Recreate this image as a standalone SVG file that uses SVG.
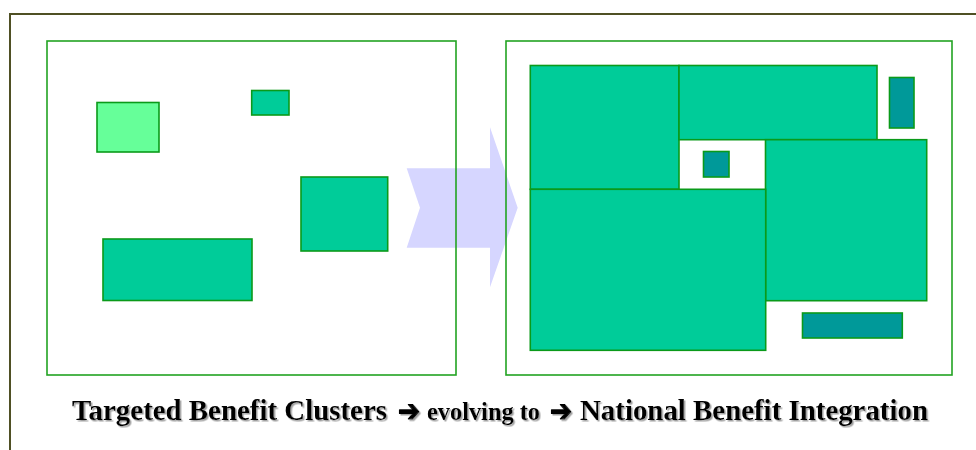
<svg xmlns="http://www.w3.org/2000/svg" width="976" height="450" viewBox="0 0 976 450">
<defs>
<style>
.frame{fill:none;stroke:#4f5024;stroke-width:2}
.box{fill:none;stroke:#22a322;stroke-width:1.6}
.g{fill:#00cc99;stroke:#0a9a1a;stroke-width:1.6}
.lg{fill:#66ff99;stroke:#0a9a1a;stroke-width:1.6}
.t{fill:#009999;stroke:#0a9a1a;stroke-width:1.6}
.cap{font-family:"Liberation Serif","Times New Roman",serif;font-weight:bold;fill:#000}
.arr{font-family:"DejaVu Sans",sans-serif;font-weight:bold;fill:#000;stroke:#000;stroke-width:1.3;stroke-linejoin:round}
</style>
<filter id="sh" x="-5%" y="-30%" width="110%" height="160%">
<feDropShadow dx="1.5" dy="1.5" stdDeviation="0.3" flood-color="#a0a0a0" flood-opacity="1"/>
</filter>
</defs>
<rect id="background" x="0" y="0" width="976" height="450" fill="#ffffff"/>
<rect id="frame" class="frame" x="10" y="14" width="980" height="450"/>
<g id="evolution-arrow">
<polygon points="406.7,168.3 490,168.3 490,127.3 517.7,207.7 490,287.3 490,247.7 406.7,247.7 420,207.7" fill="#d6d6ff"/>
</g>
<g id="left-panel">
<rect class="box" x="47" y="41" width="409" height="334"/>
<rect id="cluster-1" class="lg" x="97" y="102.5" width="62" height="49.5"/>
<rect id="cluster-2" class="g" x="251.7" y="90.5" width="37.3" height="24.5"/>
<rect id="cluster-3" class="g" x="301" y="177" width="86.7" height="74"/>
<rect id="cluster-4" class="g" x="103" y="239" width="149" height="61.5"/>
</g>
<g id="right-panel">
<rect class="box" x="506" y="41" width="446" height="334"/>
<rect id="block-1" class="g" x="530.3" y="65.5" width="148.7" height="123.8"/>
<rect id="block-2" class="g" x="679" y="65.5" width="198" height="74.2"/>
<rect id="block-3" class="t" x="889.5" y="77.5" width="24.5" height="50.5"/>
<rect id="block-4" class="g" x="765.5" y="139.7" width="161.2" height="161"/>
<rect id="block-5" class="t" x="703.5" y="151.5" width="25.5" height="25.5"/>
<rect id="block-6" class="g" x="530.3" y="189.3" width="235.4" height="161"/>
<rect id="block-7" class="t" x="802.5" y="313" width="99.8" height="25"/>
</g>
<g id="caption" filter="url(#sh)">
<text class="cap" x="72" y="420" font-size="29" textLength="315" lengthAdjust="spacingAndGlyphs">Targeted Benefit Clusters</text>
<text class="arr" x="398" y="421" font-size="30" textLength="22" lengthAdjust="spacingAndGlyphs">➔</text>
<text class="cap" x="427" y="420" font-size="25" textLength="113" lengthAdjust="spacingAndGlyphs">evolving to</text>
<text class="arr" x="550" y="421" font-size="30" textLength="22" lengthAdjust="spacingAndGlyphs">➔</text>
<text class="cap" x="580" y="420" font-size="29" textLength="348" lengthAdjust="spacingAndGlyphs">National Benefit Integration</text>
</g>
</svg>
